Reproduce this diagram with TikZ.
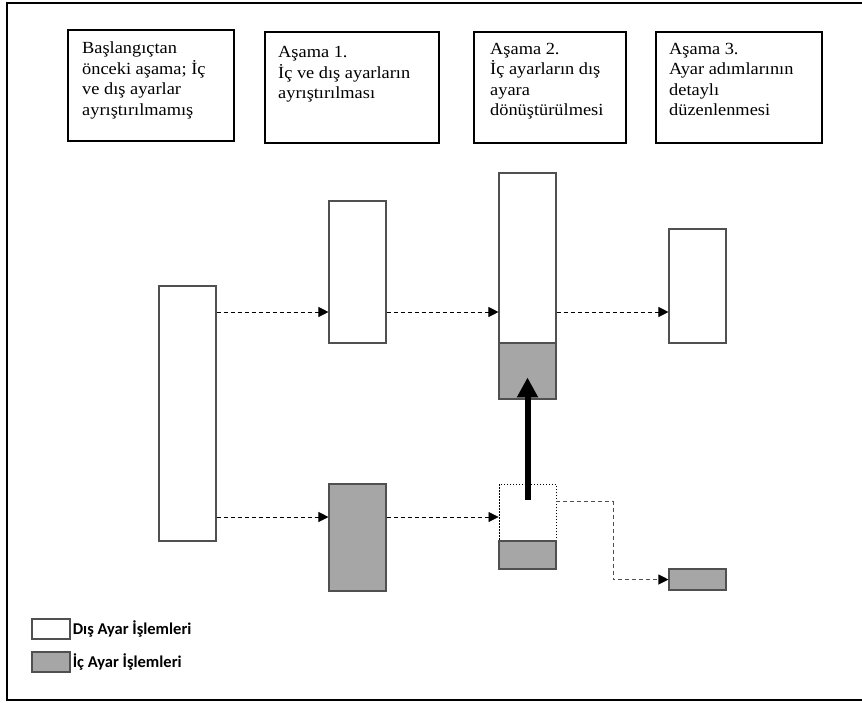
\documentclass[tikz,border=0pt]{standalone}
\usepackage{fontspec}
\setmainfont{Liberation Serif}
\newfontfamily\headfont[FakeStretch=1.08]{Liberation Serif}
\newfontfamily\legendfont{Carlito}
\usetikzlibrary{arrows.meta}

\definecolor{barline}{HTML}{505050}
\definecolor{barfill}{HTML}{A6A6A6}

\tikzset{
  stagebox/.style={draw=black, line width=2pt, anchor=north west, inner sep=0pt},
  stagetext/.style={anchor=north west, inner sep=0pt, align=left,
    font=\headfont\fontsize{17}{20.5}\selectfont},
  outbar/.style={draw=barline, line width=1.1pt, fill=white, inner sep=0pt, minimum width=57pt},
  inbar/.style={draw=barline, line width=1.1pt, fill=barfill, inner sep=0pt, minimum width=57pt},
  dotbar/.style={draw=black, line width=0.9pt, dash pattern=on 1.5pt off 1.5pt, inner sep=0pt, minimum width=57pt},
  flow/.style={line width=0.8pt, dash pattern=on 4pt off 3pt, -{Triangle[length=10pt,width=10pt]}},
  grayflow/.style={draw=barline, line width=1.1pt, dash pattern=on 4pt off 3pt, -{Triangle[length=10pt,width=10pt,color=black,fill=black]}},
  bigarrow/.style={line width=6pt, -{Triangle[length=20pt,width=20pt]}},
  legendbox/.style={draw=barline, line width=1.2pt, inner sep=0pt, minimum width=38pt, minimum height=20pt},
  legendtext/.style={anchor=west, inner sep=0pt, font=\legendfont\bfseries\fontsize{16.5}{19}\selectfont}
}

\begin{document}
\begin{tikzpicture}[x=1pt,y=-1pt]
\useasboundingbox (0,0) rectangle (862,702);

% outer frame (right side runs past the page edge)
\draw[line width=2pt] (880,3) -- (7,3) -- (7,700) -- (880,700);

% stage headings
\node[stagebox, minimum width=166pt, minimum height=111pt] (s0) at (67,29) {};
\node[stagebox, minimum width=174pt, minimum height=111pt] (s1) at (264,31) {};
\node[stagebox, minimum width=152pt, minimum height=111pt] (s2) at (473,31) {};
\node[stagebox, minimum width=166pt, minimum height=111pt] (s3) at (655,31) {};

\node[stagetext] (t0) at ([xshift=15pt,yshift=-13pt]s0.north west)
  {Başlangıçtan\\önceki aşama; İç\\ve dış ayarlar\\ayrıştırılmamış};
\node[stagetext] (t1) at ([xshift=14pt,yshift=-15.5pt]s1.north west)
  {Aşama 1.\\İç ve dış ayarların\\ayrıştırılması};
\node[stagetext] (t2) at ([xshift=17pt,yshift=-12pt]s2.north west)
  {Aşama 2.\\İç ayarların dış\\ayara\\dönüştürülmesi};
\node[stagetext] (t3) at ([xshift=14pt,yshift=-12pt]s3.north west)
  {Aşama 3.\\Ayar adımlarının\\detaylı\\düzenlenmesi};

% setup bars
\node[outbar, minimum height=255pt] (a)  at (187.5,413.5) {};
\node[outbar, minimum height=142pt] (bo) at (357.5,272) {};
\node[inbar,  minimum height=107pt] (bi) at (357.5,537.5) {};
\node[outbar, minimum height=170pt] (co) at (527.5,258) {};
\node[inbar,  minimum height=56pt]  (ci) at (527.5,371) {};
\node[dotbar, minimum height=57pt]  (cd) at (527.5,512.5) {};
\node[inbar,  minimum height=28pt]  (cr) at (527.5,555) {};
\node[outbar, minimum height=114pt] (do) at (697.5,286) {};
\node[inbar,  minimum height=21pt]  (di) at (697.5,579.5) {};

\coordinate (rowtop) at (0,312);
\coordinate (rowbot) at (0,517);

% flows between stages
\draw[flow] (a.east |- rowtop) -- (bo.west |- rowtop);
\draw[flow] (bo.east |- rowtop) -- (co.west |- rowtop);
\draw[flow] (co.east |- rowtop) -- (do.west |- rowtop);
\draw[flow] (a.east |- rowbot) -- (bi.west |- rowbot);
\draw[flow] (bi.east |- rowbot) -- (cd.west |- rowbot);
\draw[grayflow] ([yshift=11pt]cd.east) -- ++(57,0) |- (di.west);

% internal setup converted to external
\draw[bigarrow] ([yshift=-16pt]cd.north) -- ([yshift=-35pt]ci.north);

% legend
\node[legendbox, fill=white]   (lo) at (51,629) {};
\node[legendbox, fill=barfill] (li) at (51,662) {};
\node[legendtext] (lot) at ([xshift=2pt]lo.east) {Dış Ayar İşlemleri};
\node[legendtext] (lit) at ([xshift=2pt]li.east) {İç Ayar İşlemleri};
\end{tikzpicture}
\end{document}
